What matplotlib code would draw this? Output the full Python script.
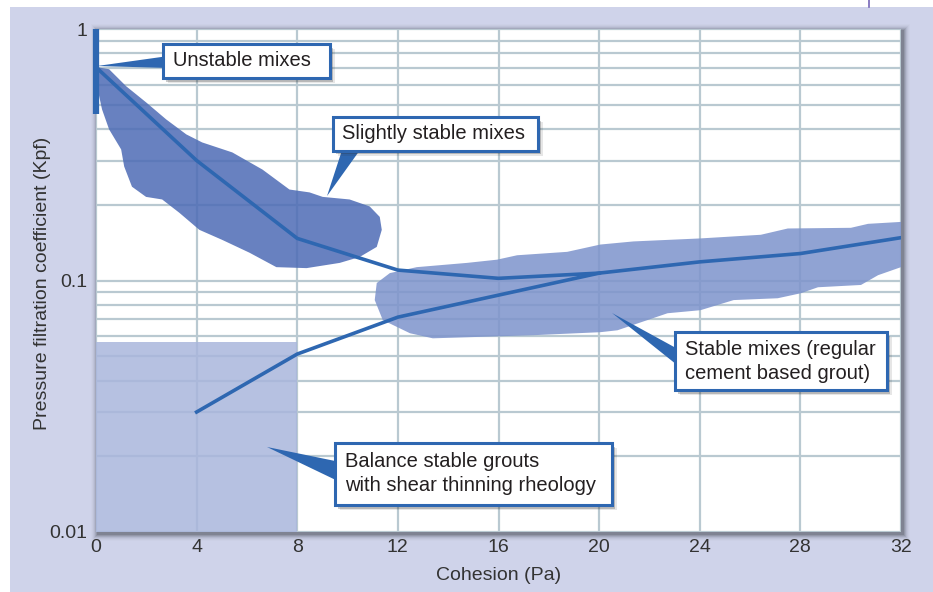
import numpy as np
import matplotlib.pyplot as plt
from matplotlib.patches import Polygon, Rectangle
from matplotlib.ticker import FixedLocator, LogLocator, NullFormatter

plt.rcParams['font.family'] = ['Liberation Sans', 'DejaVu Sans']

# trend lines (cohesion in Pa, Kpf)
cohesion = [0, 4, 8, 12, 16, 20, 24, 28, 32]
kpf_upper = [0.705, 0.300, 0.147, 0.110, 0.102, 0.107, 0.1186, 0.128, 0.148]
cohesion_low = [4, 8, 12, 20]
kpf_lower = [0.030, 0.051, 0.0715, 0.107]

# slightly stable mixes zone outline
slight_x = [0.04, 0.52, 1.20, 1.99, 2.79, 3.59, 4.22, 5.42, 6.62, 7.69, 8.49, 9.01,
            10.08, 10.88, 11.28, 11.36, 11.16, 10.48, 9.69, 8.37, 7.17, 6.10, 5.02,
            4.11, 3.31, 2.63, 1.99, 1.43, 1.12, 1.00, 0.52, 0.24, 0.04, 0.0]
slight_y = [0.705, 0.692, 0.592, 0.511, 0.437, 0.381, 0.354, 0.323, 0.276, 0.230, 0.224, 0.215,
            0.210, 0.197, 0.179, 0.159, 0.136, 0.124, 0.1175, 0.112, 0.113, 0.129, 0.145,
            0.159, 0.186, 0.210, 0.215, 0.236, 0.284, 0.332, 0.399, 0.479, 0.592, 0.674]

# stable mixes zone outline
stable_x = [11.16, 11.68, 12.75, 14.75, 15.94, 16.74, 18.73, 20.05, 21.36, 24.03, 26.43,
            27.50, 30.01, 30.69, 32.0, 32.0, 31.09, 30.41, 28.70, 28.02, 27.10, 25.35,
            24.03, 22.72, 20.73, 20.05, 17.38, 13.39, 12.48, 11.40, 11.08]
stable_y = [0.0977, 0.107, 0.113, 0.1175, 0.121, 0.126, 0.130, 0.139, 0.143, 0.147, 0.152,
            0.161, 0.162, 0.168, 0.171, 0.113, 0.105, 0.096, 0.094, 0.089, 0.085, 0.0836,
            0.0762, 0.0741, 0.0634, 0.0623, 0.0606, 0.0589, 0.0617, 0.0696, 0.0836]

# balance stable grouts block and unstable bar
balance_x = [0, 8]
balance_y = [0.01, 0.057]
unstable_x = 0
unstable_y = [0.458, 1.0]

xticks = [0, 4, 8, 12, 16, 20, 24, 28, 32]
yticks = [0.01, 0.1, 1]
ytick_labels = ['0.01', '0.1', '1']

BLUE = '#2e67b1'
GRID = '#b9c9d1'
BG = '#cfd3ea'
TXT = '#231f20'

W, H = 933, 592
fig = plt.figure(figsize=(W / 100, H / 100), dpi=100)
fig.patch.set_facecolor('white')

# lavender panel
fig.patches.append(Rectangle((10 / W, 0), 923 / W, 585 / H, transform=fig.transFigure,
                             facecolor=BG, edgecolor='none', zorder=-10))

# drop shadow behind the plot area
L, R, T, B = 96, 901, 29, 532
for k, a in zip(range(1, 8), [0.22, 0.16, 0.12, 0.08, 0.05, 0.03, 0.02]):
    x0, x1 = L - k + 2, R + k + 2
    y0, y1 = T - k + 2, B + k + 2
    fig.patches.append(Rectangle((x0 / W, 1 - y1 / H), (x1 - x0) / W, (y1 - y0) / H,
                                 transform=fig.transFigure, facecolor='#3a3f48',
                                 edgecolor='none', alpha=a, zorder=-5))

# little mark at the top edge
fig.add_artist(plt.Line2D([869 / W, 869 / W], [1, 1 - 7 / H], transform=fig.transFigure,
                          color='#7566b8', lw=1.2))

ax = fig.add_axes([L / W, 1 - B / H, (R - L) / W, (B - T) / H])
ax.set_facecolor('white')
ax.set_yscale('log')
ax.set_xlim(0, 32)
ax.set_ylim(0.01, 1)

ax.xaxis.set_major_locator(FixedLocator(xticks))
ax.yaxis.set_major_locator(FixedLocator(yticks))
ax.set_yticklabels(ytick_labels)
ax.yaxis.set_minor_locator(LogLocator(base=10, subs=np.arange(2, 10)))
ax.yaxis.set_minor_formatter(NullFormatter())
ax.tick_params(which='both', length=0, labelsize=14, labelcolor='#333333')
ax.tick_params(axis='x', pad=5)
ax.tick_params(axis='y', pad=6)
ax.grid(which='both', color=GRID, lw=1.6, zorder=0)
ax.set_axisbelow(True)
for s in ax.spines.values():
    s.set_visible(False)

# zones
ax.add_patch(Rectangle((balance_x[0], balance_y[0]), balance_x[1] - balance_x[0],
                       balance_y[1] - balance_y[0], facecolor='#a9b6dc', alpha=0.85,
                       edgecolor='none', zorder=2))
ax.add_patch(Polygon(np.column_stack([slight_x, slight_y]), closed=True, facecolor='#4d6bb5',
                     alpha=0.85, edgecolor='none', joinstyle='round', zorder=2))
ax.add_patch(Polygon(np.column_stack([stable_x, stable_y]), closed=True, facecolor='#7d93cc',
                     alpha=0.85, edgecolor='none', joinstyle='round', zorder=2))

# trend lines
ax.plot(cohesion, kpf_upper, color=BLUE, lw=2.6, zorder=4, solid_joinstyle='miter')
ax.plot(cohesion_low, kpf_lower, color=BLUE, lw=2.6, zorder=4, solid_joinstyle='miter')
ax.plot([unstable_x, unstable_x], unstable_y, color=BLUE, lw=4.5, zorder=5,
        solid_capstyle='butt', clip_on=False)


def callout(box, text_xy, label, wedge):
    x0, y0, x1, y1 = box
    ax.add_patch(Polygon(wedge, closed=True, transform=ax.transAxes, facecolor=BLUE,
                         edgecolor='none', zorder=6, clip_on=False))
    for dx, dy, a in [(0.004, -0.007, 0.25), (0.006, -0.010, 0.12)]:
        ax.add_patch(Rectangle((x0 + dx, y0 + dy), x1 - x0, y1 - y0, transform=ax.transAxes,
                               facecolor='#333333', edgecolor='none', alpha=a, zorder=6,
                               clip_on=False))
    ax.add_patch(Rectangle((x0, y0), x1 - x0, y1 - y0, transform=ax.transAxes,
                           facecolor='white', edgecolor=BLUE, lw=2.2, zorder=7, clip_on=False))
    ax.text(text_xy[0], text_xy[1], label, transform=ax.transAxes, ha='left', va='center',
            fontsize=14.5, color=TXT, linespacing=1.3, zorder=8)


callout((0.0832, 0.9026, 0.2907, 0.9702), (0.0957, 0.9364), 'Unstable mixes',
        [(0.090, 0.9463), (0.090, 0.9225), (0.0012, 0.9264)])
callout((0.2944, 0.7575, 0.5491, 0.8250), (0.3056, 0.7913), 'Slightly stable mixes',
        [(0.3068, 0.765), (0.3304, 0.765), (0.2870, 0.6680)])
callout((0.7193, 0.2823, 0.9826, 0.3976), (0.7317, 0.3390),
        'Stable mixes (regular\ncement based grout)',
        [(0.725, 0.3618), (0.725, 0.3280), (0.6410, 0.4354)])
callout((0.2969, 0.0537, 0.6410, 0.1769), (0.3093, 0.1160),
        'Balance stable grouts\nwith shear thinning rheology',
        [(0.303, 0.1392), (0.303, 0.0994), (0.2124, 0.1690)])

ax.text(0.5, -0.0855, 'Cohesion (Pa)', transform=ax.transAxes, ha='center', va='center',
        fontsize=14, color='#333333')
ax.text(-0.067, 0.494, 'Pressure filtration coefficient (Kpf)', transform=ax.transAxes,
        ha='center', va='center', rotation=90, fontsize=14, color='#333333')

fig.savefig('out.png', dpi=100)
